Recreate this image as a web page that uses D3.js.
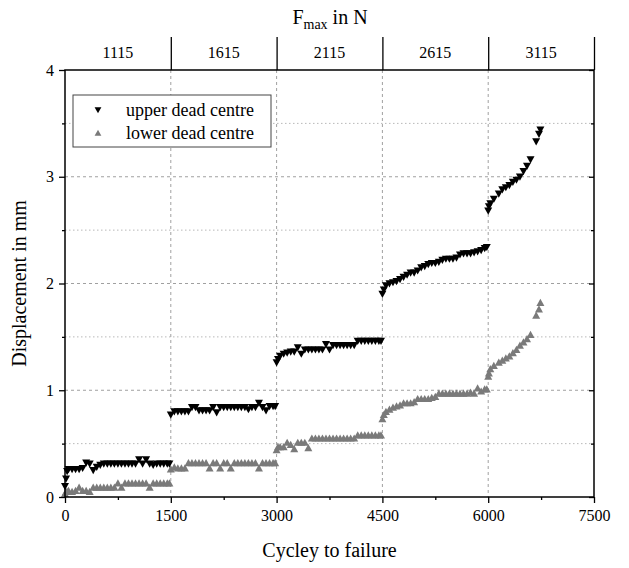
<!DOCTYPE html>
<html><head><meta charset="utf-8">
<script src="https://cdn.jsdelivr.net/npm/d3@7"></script>
<style>body{margin:0;background:#fff}svg{display:block}</style>
</head><body><svg id="c" width="629" height="568"></svg>
<script>
const cycles = [
  0,15,30,50,100,150,200,250,300,350,400,450,500,550,600,650,700,750,800,850,900,950,1000,1050,1100,1150,1200,1250,1300,1350,1400,1450,1480,
  1500,1550,1600,1650,1700,1750,1800,1850,1900,1950,2000,2050,2100,2150,2200,2250,2300,2350,2400,2450,2500,2550,2600,2650,2700,2750,2800,2850,2900,2950,2980,
  3000,3020,3050,3100,3150,3200,3250,3300,3350,3400,3450,3500,3550,3600,3650,3700,3750,3800,3850,3900,3950,4000,4050,4100,4150,4200,4250,4300,4350,4400,4450,4480,
  4500,4520,4550,4600,4650,4700,4750,4800,4850,4900,4950,5000,5050,5100,5150,5200,5250,5300,5350,5400,5450,5500,5550,5600,5650,5700,5750,5800,5850,5900,5950,5980,
  6000,6010,6030,6080,6150,6200,6250,6300,6350,6400,6450,6500,6550,6600,6680,6720,6740
];
const upperDisp = [
  0.10,0.17,0.24,0.26,0.26,0.26,0.26,0.27,0.32,0.31,0.25,0.28,0.30,0.31,0.31,0.31,0.31,0.31,0.31,0.31,0.31,0.31,0.31,0.35,0.31,0.35,0.31,0.30,0.31,0.31,0.31,0.31,0.31,
  0.77,0.80,0.80,0.80,0.80,0.80,0.84,0.84,0.81,0.81,0.81,0.81,0.84,0.79,0.84,0.84,0.84,0.84,0.84,0.84,0.84,0.84,0.82,0.84,0.84,0.88,0.84,0.81,0.85,0.85,0.85,
  1.26,1.29,1.32,1.34,1.35,1.36,1.36,1.40,1.34,1.38,1.38,1.38,1.38,1.38,1.38,1.43,1.38,1.42,1.42,1.42,1.42,1.42,1.42,1.42,1.46,1.46,1.46,1.46,1.46,1.46,1.46,1.46,
  1.90,1.94,1.98,2.00,2.01,2.02,2.04,2.06,2.08,2.10,2.10,2.12,2.15,2.16,2.18,2.19,2.19,2.20,2.22,2.23,2.23,2.23,2.24,2.27,2.28,2.28,2.28,2.29,2.30,2.31,2.33,2.34,
  2.68,2.72,2.75,2.79,2.84,2.88,2.90,2.92,2.95,2.97,3.00,3.05,3.10,3.16,3.33,3.40,3.44
];
const lowerDisp = [
  0.03,0.05,0.05,0.06,0.05,0.06,0.09,0.06,0.06,0.05,0.09,0.09,0.09,0.09,0.09,0.09,0.09,0.13,0.09,0.13,0.13,0.13,0.13,0.13,0.13,0.13,0.09,0.13,0.13,0.13,0.13,0.13,0.13,
  0.26,0.28,0.27,0.27,0.27,0.32,0.32,0.32,0.32,0.32,0.32,0.27,0.32,0.32,0.27,0.32,0.32,0.27,0.32,0.32,0.32,0.32,0.32,0.32,0.32,0.27,0.32,0.32,0.32,0.32,0.32,
  0.44,0.47,0.47,0.47,0.51,0.49,0.45,0.51,0.51,0.51,0.46,0.55,0.55,0.55,0.55,0.55,0.55,0.55,0.55,0.55,0.55,0.55,0.55,0.55,0.58,0.58,0.58,0.58,0.58,0.58,0.58,0.58,
  0.73,0.77,0.80,0.82,0.84,0.85,0.86,0.88,0.88,0.88,0.89,0.92,0.92,0.92,0.92,0.93,0.94,0.97,0.97,0.97,0.97,0.97,0.97,0.97,0.97,0.97,0.98,0.97,1.02,0.99,1.01,1.01,
  1.13,1.16,1.20,1.23,1.26,1.28,1.30,1.32,1.35,1.38,1.42,1.45,1.48,1.52,1.70,1.76,1.82
];
const forceLabels = ["1115","1615","2115","2615","3115"];
const forceBounds = [0,1500,3000,4500,6000,7500];
const xTicks = [0,1500,3000,4500,6000,7500];
const xMinorTicks = [750,2250,3750,5250,6750];
const yTicks = [0,1,2,3,4];
const yMinorTicks = [0.5,1.5,2.5,3.5];
const seriesNames = ["upper dead centre","lower dead centre"];

const svg = d3.select("#c");
const L = 65, R = 594, T = 70, B = 497;
const x = d3.scaleLinear().domain([0,7500]).range([L,R]);
const y = d3.scaleLinear().domain([0,4]).range([B,T]);
const font = "'Liberation Serif','Times New Roman',serif";

// grid
const g = svg.append("g");
g.selectAll(".hmin").data(yMinorTicks).join("line")
  .attr("x1",L).attr("x2",R).attr("y1",d=>y(d)).attr("y2",d=>y(d))
  .attr("stroke","#b8b8b8").attr("stroke-width",1).attr("stroke-dasharray","1.5,2.5");
g.selectAll(".hmaj").data(yTicks.slice(1,4)).join("line")
  .attr("x1",L).attr("x2",R).attr("y1",d=>y(d)).attr("y2",d=>y(d))
  .attr("stroke","#a0a0a0").attr("stroke-width",1).attr("stroke-dasharray","3,3");
g.selectAll(".vmaj").data(xTicks.slice(1,5)).join("line")
  .attr("y1",T).attr("y2",B).attr("x1",d=>x(d)).attr("x2",d=>x(d))
  .attr("stroke","#a0a0a0").attr("stroke-width",1).attr("stroke-dasharray","3,3");

// data
const pts = cycles.map((c,i)=>({c, u:upperDisp[i], l:lowerDisp[i]}));
const down = "M-4,-3.3 L4,-3.3 L0,3.9 Z";
const up = "M-4,3.3 L4,3.3 L0,-3.9 Z";
svg.append("g").selectAll("path").data(pts).join("path")
  .attr("d",up).attr("transform",d=>`translate(${x(d.c)},${y(d.l)})`).attr("fill","#7a7a7a");
svg.append("g").selectAll("path").data(pts).join("path")
  .attr("d",down).attr("transform",d=>`translate(${x(d.c)},${y(d.u)})`).attr("fill","#000");

// axes
const xAxis = svg.append("g").attr("transform",`translate(0,${B})`)
  .call(d3.axisBottom(x).tickValues(xTicks).tickSize(6).tickPadding(7).tickFormat(d3.format("d")));
const xMinor = svg.append("g").attr("transform",`translate(0,${B})`)
  .call(d3.axisBottom(x).tickValues(xMinorTicks).tickSize(3).tickFormat(""));
const yAxis = svg.append("g").attr("transform",`translate(${L},0)`)
  .call(d3.axisLeft(y).tickValues(yTicks).tickSize(6).tickPadding(5).tickFormat(d3.format("d")));
const yMinor = svg.append("g").attr("transform",`translate(${L},0)`)
  .call(d3.axisLeft(y).tickValues(yMinorTicks).tickSize(3).tickFormat(""));
const yRight = svg.append("g").attr("transform",`translate(${R},0)`)
  .call(d3.axisLeft(y).tickValues(yTicks).tickSize(5).tickFormat(""));
const yRightMinor = svg.append("g").attr("transform",`translate(${R},0)`)
  .call(d3.axisLeft(y).tickValues(yMinorTicks).tickSize(3).tickFormat(""));
const xTop = svg.append("g").attr("transform",`translate(0,${T})`)
  .call(d3.axisTop(x).tickValues(forceBounds.slice(1)).tickSize(33).tickFormat(""));
[xAxis,xMinor,yAxis,yMinor,yRight,yRightMinor,xTop].forEach(a=>{
  a.select(".domain").remove();
  a.selectAll("line").attr("stroke","#000").attr("stroke-width",1.3);
  a.selectAll("text").attr("font-family",font).attr("font-size",16).attr("fill","#000");
});
svg.append("rect").attr("x",L).attr("y",T).attr("width",R-L).attr("height",B-T)
  .attr("fill","none").attr("stroke","#000").attr("stroke-width",1.5);

// top band labels
svg.append("g").selectAll("text").data(forceLabels).join("text")
  .attr("x",(d,i)=>x((forceBounds[i]+forceBounds[i+1])/2)).attr("y",58)
  .attr("text-anchor","middle").attr("font-family",font).attr("font-size",16).text(d=>d);
const ft = svg.append("text").attr("x",330).attr("y",24).attr("text-anchor","middle")
  .attr("font-family",font).attr("font-size",20);
ft.append("tspan").text("F");
ft.append("tspan").attr("font-size",14).attr("dy",5).text("max");
ft.append("tspan").attr("dy",-5).text(" in N");

// axis titles
svg.append("text").attr("x",(L+R)/2).attr("y",557).attr("text-anchor","middle")
  .attr("font-family",font).attr("font-size",20).text("Cycley to failure");
svg.append("text").attr("transform",`translate(26,${(T+B)/2}) rotate(-90)`).attr("text-anchor","middle")
  .attr("font-family",font).attr("font-size",20).text("Displacement in mm");

// legend
const lg = svg.append("g");
lg.append("rect").attr("x",73).attr("y",95).attr("width",198).attr("height",52)
  .attr("fill","#fff").attr("stroke","#444").attr("stroke-width",1);
[[down,"#000"],[up,"#7a7a7a"]].forEach((s,i)=>{
  lg.append("path").attr("d",s[0]).attr("fill",s[1]).attr("transform",`translate(98,${110+i*23}) scale(0.85)`);
  lg.append("text").attr("x",126).attr("y",116+i*23).attr("font-family",font).attr("font-size",18)
    .text(seriesNames[i]);
});
</script></body></html>
